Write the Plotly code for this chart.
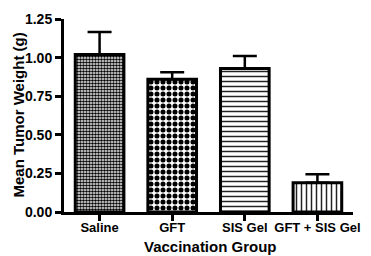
import plotly.graph_objects as go

groups = ["Saline", "GFT", "SIS Gel", "GFT + SIS Gel"]
mean_weight = [1.02, 0.86, 0.93, 0.19]
sem_upper = [0.145, 0.045, 0.08, 0.055]
x_title = "Vaccination Group"
y_title = "Mean Tumor Weight (g)"

pattern_shapes = [".", ".", "-", "|"]
pattern_fg = ["#000000", "#000000", "#222222", "#222222"]
pattern_bg = ["#ffffff", "#ffffff", "#ffffff", "#ffffff"]
pattern_size = [3, 6, 5, 5]
pattern_solid = [0.6, 0.55, 0.3, 0.3]

fig = go.Figure()
fig.add_trace(go.Bar(
    x=groups,
    y=mean_weight,
    width=0.67,
    marker=dict(
        color=pattern_fg,
        line=dict(color="black", width=3),
        pattern=dict(shape=pattern_shapes, fgcolor=pattern_fg, bgcolor=pattern_bg,
                     size=pattern_size, solidity=pattern_solid, fillmode="replace"),
    ),
    error_y=dict(type="data", symmetric=False, array=sem_upper,
                 arrayminus=[0, 0, 0, 0], color="black", thickness=2.5, width=12),
))

font_family = "Liberation Sans, Arial, sans-serif"
# page body has an 8px default margin, so the figure is sized/offset to compensate
fig.update_layout(
    width=363, height=248,
    margin=dict(l=56, r=16, t=11, b=44),
    plot_bgcolor="white", paper_bgcolor="white",
    showlegend=False,
    font=dict(family=font_family, color="black", weight="bold"),
    annotations=[
        dict(text=x_title, xref="paper", yref="paper", x=0.5, y=0, xshift=2, yshift=-34,
             xanchor="center", yanchor="middle", showarrow=False,
             font=dict(size=15, family=font_family, weight="bold")),
        dict(text=y_title, xref="paper", yref="paper", x=0, y=0.5, xshift=-46,
             xanchor="center", yanchor="middle", textangle=-90, showarrow=False,
             font=dict(size=15, family=font_family, weight="bold")),
    ],
)
fig.update_xaxes(
    range=[-0.49, 3.49], automargin=True,
    showline=True, linecolor="black", linewidth=2.5,
    ticks="outside", ticklen=6, tickwidth=2.5, tickcolor="black",
    ticklabelstandoff=-4,
    tickfont=dict(size=13, family=font_family, weight="bold"),
    showgrid=False, zeroline=False,
)
fig.update_yaxes(
    range=[0, 1.25], dtick=0.25, tick0=0, tickformat=".2f", automargin=False,
    showline=True, linecolor="black", linewidth=3,
    ticks="outside", ticklen=6, tickwidth=2.5, tickcolor="black",
    tickfont=dict(size=14, family=font_family, weight="bold"),
    showgrid=False, zeroline=False,
)

fig.write_html("out.html")
